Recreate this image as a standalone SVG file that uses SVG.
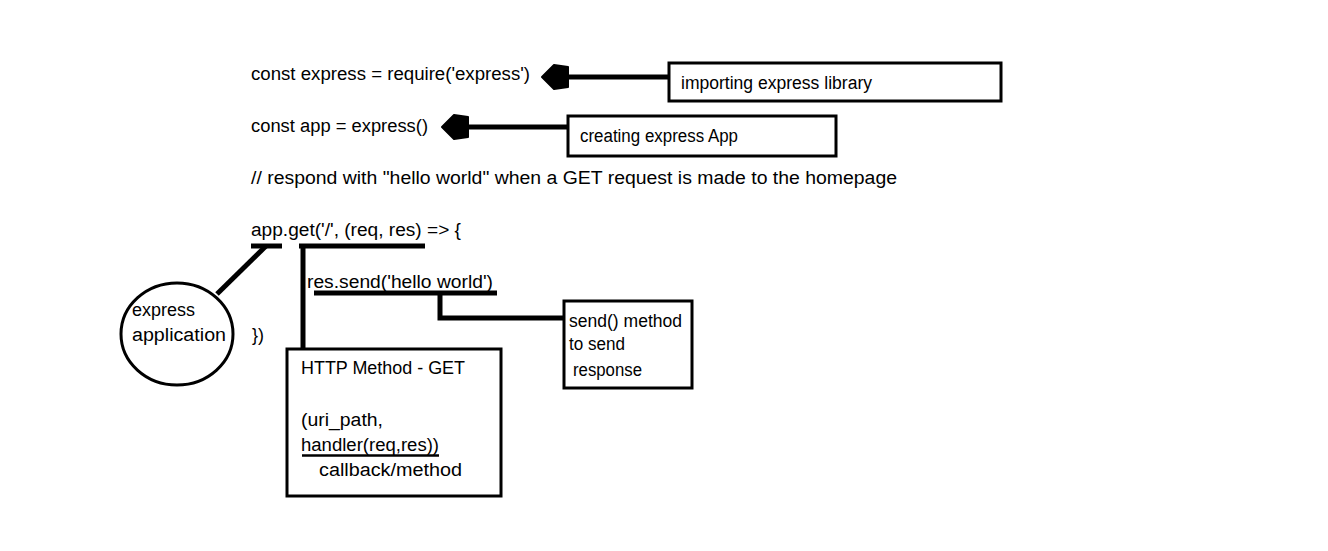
<svg xmlns="http://www.w3.org/2000/svg" width="1328" height="551" viewBox="0 0 1328 551">
<style>
text{font-family:"Liberation Sans",Arial,sans-serif;font-size:18px;fill:#000}
.box{fill:#fff;stroke:#000;stroke-width:3}
.ln{fill:none;stroke:#000;stroke-width:5}
.thin{fill:none;stroke:#000;stroke-width:2.5}
</style>
<rect width="1328" height="551" fill="#fff"/>
<g id="code">
<text x="251" y="80" textLength="279" lengthAdjust="spacingAndGlyphs">const express = require('express')</text>
<text x="251" y="132" textLength="177" lengthAdjust="spacingAndGlyphs">const app = express()</text>
<text x="251" y="184" textLength="646" lengthAdjust="spacingAndGlyphs">// respond with "hello world" when a GET request is made to the homepage</text>
<text x="251" y="236" textLength="210" lengthAdjust="spacingAndGlyphs">app.get('/', (req, res) =&gt; {</text>
<text x="307" y="288" textLength="186" lengthAdjust="spacingAndGlyphs">res.send('hello world')</text>
<text x="252" y="341" textLength="12" lengthAdjust="spacingAndGlyphs">})</text>
</g>
<g id="connectors">
<line class="ln" x1="566" y1="77" x2="670" y2="77"/>
<polygon points="542,77 554,65 568,67 568,87 554,89" fill="#000" stroke="#000" stroke-width="2" stroke-linejoin="round"/>
<line class="ln" x1="466" y1="127" x2="568" y2="127"/>
<polygon points="442,127 454,115 468,117 468,137 454,139" fill="#000" stroke="#000" stroke-width="2" stroke-linejoin="round"/>
<line class="ln" x1="251" y1="246" x2="282" y2="246"/>
<line class="ln" x1="299" y1="246" x2="425" y2="246"/>
<line class="ln" x1="266" y1="246" x2="217" y2="294"/>
<line class="ln" x1="303" y1="246" x2="303" y2="348"/>
<line class="ln" x1="314" y1="293" x2="497" y2="293"/>
<polyline class="ln" points="440,293 440,318 565,318"/>
</g>
<g id="express-application">
<ellipse cx="177" cy="334" rx="56" ry="51" fill="#fff" stroke="#000" stroke-width="3"/>
<text x="132" y="316" textLength="63" lengthAdjust="spacingAndGlyphs">express</text>
<text x="132" y="341" textLength="94" lengthAdjust="spacingAndGlyphs">application</text>
</g>
<g id="importing-box">
<rect class="box" x="669" y="63" width="332" height="38"/>
<text x="681" y="89" textLength="191" lengthAdjust="spacingAndGlyphs">importing express library</text>
</g>
<g id="creating-box">
<rect class="box" x="568" y="116" width="268" height="40"/>
<text x="580" y="142" textLength="158" lengthAdjust="spacingAndGlyphs">creating express App</text>
</g>
<g id="send-box">
<rect class="box" x="564" y="301" width="128" height="87"/>
<text x="569" y="327" textLength="113" lengthAdjust="spacingAndGlyphs">send() method</text>
<text x="569" y="350" textLength="56" lengthAdjust="spacingAndGlyphs">to send</text>
<text x="573" y="376" textLength="69" lengthAdjust="spacingAndGlyphs">response</text>
</g>
<g id="http-box">
<rect class="box" x="287" y="349" width="214" height="147"/>
<text x="301" y="374" textLength="164" lengthAdjust="spacingAndGlyphs">HTTP Method - GET</text>
<text x="301" y="426" textLength="82" lengthAdjust="spacingAndGlyphs">(uri_path,</text>
<text x="301" y="451" textLength="138" lengthAdjust="spacingAndGlyphs">handler(req,res))</text>
<line class="thin" x1="302" y1="455.5" x2="439" y2="455.5"/>
<text x="319" y="476" textLength="143" lengthAdjust="spacingAndGlyphs">callback/method</text>
</g>
</svg>
